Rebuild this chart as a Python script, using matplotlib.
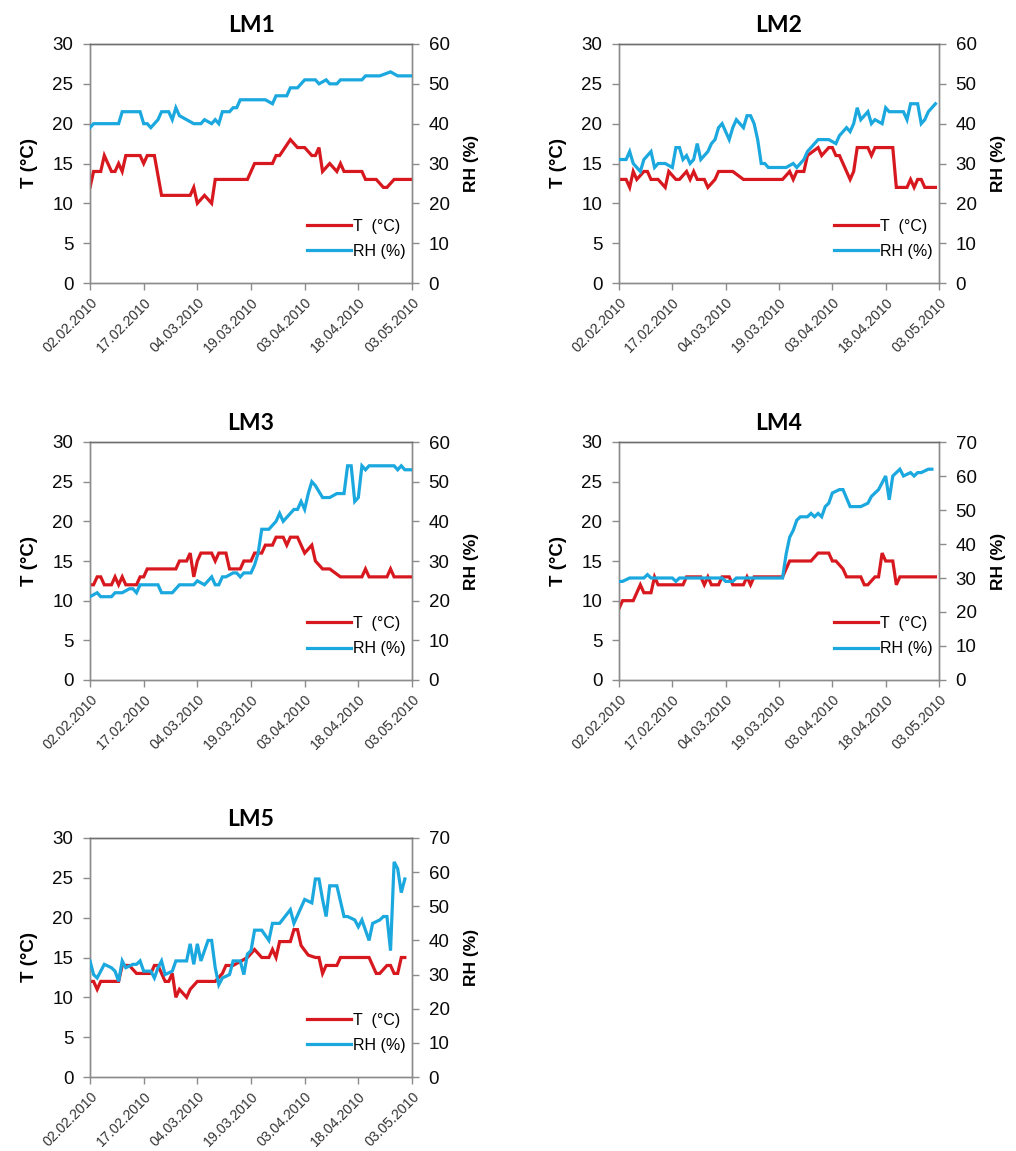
import matplotlib
matplotlib.use("Agg")
import matplotlib.pyplot as plt
import numpy as np

# ---------------------------------------------------------------------------
# Daily logger readings, day offsets counted from 02.02.2010
# ---------------------------------------------------------------------------
tick_days = [0, 15, 30, 45, 60, 75, 90]
tick_labels = ["02.02.2010", "17.02.2010", "04.03.2010", "19.03.2010",
               "03.04.2010", "18.04.2010", "03.05.2010"]

lm1_t_days = [0, 1, 3, 4, 6, 7, 8, 9, 10, 14, 15, 16, 18, 20, 28, 29, 30, 32, 34, 35,
              44, 46, 51, 52, 53, 56, 58, 60, 62, 63, 64, 65, 67, 69, 70, 71, 76, 77, 80, 82,
              83, 85, 90]
lm1_t = [12, 14, 14, 16, 14, 14, 15, 14, 16, 16, 15, 16, 16, 11, 11, 12, 10, 11, 10, 13,
         13, 15, 15, 16, 16, 18, 17, 17, 16, 16, 17, 14, 15, 14, 15, 14, 14, 13, 13, 12,
         12, 13, 13]
lm1_rh_days = [0, 1, 8, 9, 14, 15, 16, 17, 19, 20, 22, 23, 24, 25, 27, 29, 31, 32, 34, 35,
               36, 37, 39, 40, 41, 42, 49, 51, 52, 55, 56, 58, 60, 63, 64, 66, 67, 69, 70, 76,
               77, 81, 84, 86, 90]
lm1_rh = [39, 40, 40, 43, 43, 40, 40, 39, 41, 43, 43, 41, 44, 42, 41, 40, 40, 41, 40, 41,
          40, 43, 43, 44, 44, 46, 46, 45, 47, 47, 49, 49, 51, 51, 50, 51, 50, 50, 51, 51,
          52, 52, 53, 52, 52]

lm2_t_days = [0, 2, 3, 4, 5, 7, 8, 9, 11, 13, 14, 16, 17, 19, 20, 21, 22, 24, 25, 27,
              28, 32, 35, 46, 48, 49, 50, 52, 53, 56, 57, 59, 60, 61, 62, 63, 65, 66, 67, 70,
              71, 72, 77, 78, 81, 82, 83, 84, 85, 86, 89]
lm2_t = [13, 13, 12, 14, 13, 14, 14, 13, 13, 12, 14, 13, 13, 14, 13, 14, 13, 13, 12, 13,
         14, 14, 13, 13, 14, 13, 14, 14, 16, 17, 16, 17, 17, 16, 16, 15, 13, 14, 17, 17,
         16, 17, 17, 12, 12, 13, 12, 13, 13, 12, 12]
lm2_rh_days = [0, 2, 3, 4, 5, 6, 7, 9, 10, 11, 13, 15, 16, 17, 18, 19, 20, 21, 22, 23,
               25, 26, 27, 28, 29, 31, 32, 33, 34, 35, 36, 37, 38, 39, 40, 41, 42, 47, 49, 50,
               52, 53, 55, 56, 59, 61, 62, 63, 64, 65, 66, 67, 68, 70, 71, 72, 74, 75, 76, 80,
               81, 82, 84, 85, 86, 87, 89]
lm2_rh = [31, 31, 33, 30, 29, 28, 31, 33, 29, 30, 30, 29, 34, 34, 31, 32, 30, 31, 35, 31,
          33, 35, 36, 39, 40, 36, 39, 41, 40, 39, 42, 42, 40, 36, 30, 30, 29, 29, 30, 29,
          31, 33, 35, 36, 36, 35, 37, 38, 39, 38, 40, 44, 41, 43, 40, 41, 40, 44, 43, 43,
          41, 45, 45, 40, 41, 43, 45]

lm3_t_days = [0, 1, 2, 3, 4, 6, 7, 8, 9, 10, 13, 14, 15, 16, 24, 25, 27, 28, 29, 30,
              31, 32, 34, 35, 36, 38, 39, 42, 43, 45, 46, 48, 49, 51, 52, 54, 55, 56, 58, 60,
              62, 63, 65, 67, 70, 76, 77, 78, 83, 84, 85, 90]
lm3_t = [12, 12, 13, 13, 12, 12, 13, 12, 13, 12, 12, 13, 13, 14, 14, 15, 15, 16, 13, 15,
         16, 16, 16, 15, 16, 16, 14, 14, 15, 15, 16, 16, 17, 17, 18, 18, 17, 18, 18, 16,
         17, 15, 14, 14, 13, 13, 14, 13, 13, 14, 13, 13]
lm3_rh_days = [0, 2, 3, 6, 7, 9, 11, 12, 13, 14, 19, 20, 23, 25, 29, 30, 32, 34, 35, 36,
               37, 38, 40, 41, 42, 43, 45, 46, 47, 48, 50, 52, 53, 54, 56, 57, 58, 59, 60, 61,
               62, 63, 65, 67, 69, 71, 72, 73, 74, 75, 76, 77, 78, 85, 86, 87, 88, 90]
lm3_rh = [21, 22, 21, 21, 22, 22, 23, 23, 22, 24, 24, 22, 22, 24, 24, 25, 24, 26, 24, 24,
          26, 26, 27, 27, 26, 27, 27, 29, 32, 38, 38, 40, 42, 40, 42, 43, 43, 45, 43, 47,
          50, 49, 46, 46, 47, 47, 54, 54, 45, 46, 54, 53, 54, 54, 53, 54, 53, 53]

lm4_t_days = [0, 1, 4, 6, 7, 9, 10, 11, 18, 19, 23, 24, 25, 26, 28, 29, 31, 32, 35, 36,
              37, 38, 46, 48, 54, 56, 59, 60, 61, 63, 64, 68, 69, 70, 72, 73, 74, 75, 77, 78,
              79, 89]
lm4_t = [9, 10, 10, 12, 11, 11, 13, 12, 12, 13, 13, 12, 13, 12, 12, 13, 13, 12, 12, 13,
         12, 13, 13, 15, 15, 16, 16, 15, 15, 14, 13, 13, 12, 12, 13, 13, 16, 15, 15, 12,
         13, 13]
lm4_rh_days = [0, 1, 3, 7, 8, 9, 15, 16, 17, 29, 30, 32, 33, 34, 46, 47, 48, 49, 50, 51,
               53, 54, 55, 56, 57, 58, 59, 60, 62, 63, 65, 66, 68, 70, 71, 73, 74, 75, 76, 77,
               78, 79, 80, 82, 83, 84, 85, 87, 88]
lm4_rh = [29, 29, 30, 30, 31, 30, 30, 29, 30, 30, 29, 29, 30, 30, 30, 37, 42, 44, 47, 48,
          48, 49, 48, 49, 48, 51, 52, 55, 56, 56, 51, 51, 51, 52, 54, 56, 58, 60, 53, 60,
          61, 62, 60, 61, 60, 61, 61, 62, 62]

lm5_t_days = [0, 1, 2, 3, 8, 9, 11, 13, 17, 18, 19, 20, 21, 22, 23, 24, 25, 27, 28, 30,
              35, 37, 38, 40, 44, 46, 48, 50, 51, 52, 53, 56, 57, 58, 59, 61, 63, 64, 65, 66,
              69, 70, 78, 80, 81, 83, 84, 85, 86, 87, 88]
lm5_t = [12, 12, 11, 12, 12, 14, 14, 13, 13, 14, 14, 13, 12, 12, 13, 10, 11, 10, 11, 12,
         12, 13, 14, 14, 15, 16, 15, 15, 16, 15, 17, 17, 18.5, 18.5, 16.5, 15.3, 15, 15, 13, 14,
         14, 15, 15, 13, 13, 14, 14, 13, 13, 15, 15]
lm5_rh_days = [0, 1, 2, 3, 4, 6, 7, 8, 9, 10, 12, 13, 14, 15, 17, 18, 19, 20, 21, 23,
               24, 27, 28, 29, 30, 31, 33, 34, 35, 36, 37, 39, 40, 42, 43, 44, 45, 46, 48, 50,
               51, 53, 56, 57, 60, 62, 63, 64, 65, 66, 67, 69, 71, 72, 74, 75, 76, 77, 78, 79,
               81, 82, 83, 84, 85, 86, 87, 88]
lm5_rh = [34, 30, 29, 31, 33, 32, 31, 28, 34, 32, 33, 33, 34, 31, 31, 29, 32, 34, 30, 31,
          34, 34, 39, 33, 39, 34, 40, 40, 32, 27, 29, 30, 34, 34, 30, 36, 37, 43, 43, 40,
          45, 45, 49, 45, 52, 51, 58, 58, 52, 47, 56, 56, 47, 47, 46, 44, 46, 43, 40, 45,
          46, 47, 47, 37, 63, 61, 54, 58]

panels = [
    ("LM1", lm1_t_days, lm1_t, lm1_rh_days, lm1_rh, 60),
    ("LM2", lm2_t_days, lm2_t, lm2_rh_days, lm2_rh, 60),
    ("LM3", lm3_t_days, lm3_t, lm3_rh_days, lm3_rh, 60),
    ("LM4", lm4_t_days, lm4_t, lm4_rh_days, lm4_rh, 70),
    ("LM5", lm5_t_days, lm5_t, lm5_rh_days, lm5_rh, 70),
]

# ---------------------------------------------------------------------------
plt.rcParams["font.family"] = ["Liberation Sans", "DejaVu Sans"]

W, H = 1016, 1151
fig = plt.figure(figsize=(W / 100, H / 100), dpi=100)
fig.patch.set_facecolor("white")

RED = "#d7191f"
BLUE = "#1ba8df"
SPINE = "#8c8c8c"

# axes boxes in pixels: left, top, right, bottom
boxes = [
    (90, 44, 412, 283),
    (619, 44, 939, 283),
    (90, 442, 412, 680),
    (619, 442, 939, 680),
    (90, 838, 412, 1077),
]

for (name, td, tv, rd, rv, rh_max), (l, t, r, b) in zip(panels, boxes):
    ax = fig.add_axes([l / W, 1 - b / H, (r - l) / W, (b - t) / H])
    ax2 = ax.twinx()

    ax.plot(td, tv, color=RED, lw=2.3, solid_joinstyle="miter", zorder=3,
            label="T  (°C)")
    ax2.plot(rd, rv, color=BLUE, lw=2.3, solid_joinstyle="miter", zorder=3,
             label="RH (%)")

    ax.set_xlim(0, 90)
    ax.set_ylim(0, 30)
    ax.set_yticks(np.arange(0, 31, 5))
    ax2.set_ylim(0, rh_max)
    ax2.set_yticks(np.arange(0, rh_max + 1, 10))

    ax.set_xticks(tick_days)
    ax.set_xticklabels(tick_labels, rotation=45, ha="right",
                       rotation_mode="anchor", fontsize=10.2,
                       color="#333333")

    for a in (ax, ax2):
        for s in a.spines.values():
            s.set_color(SPINE)
            s.set_linewidth(1.0)
        a.spines["top"].set_color("#6e6e6e")
        a.tick_params(axis="both", direction="out", length=5, width=1,
                      color=SPINE)
        a.tick_params(axis="y", labelsize=13.5, labelcolor="#0a0a0a", pad=7)
    ax.tick_params(axis="x", pad=4)

    ax.set_ylabel("T (°C)", fontweight="bold", fontsize=13.5)
    ax.yaxis.set_label_coords(-52 / (r - l), 0.5)
    ax2.set_ylabel("RH (%)", fontweight="bold", fontsize=12.5)
    ax2.yaxis.set_label_coords(1 + 52 / (r - l), 0.5)

    ax.set_title(name, fontfamily="Lato", fontweight="bold", fontsize=16.5,
                 pad=9)

    handles = ax.get_lines() + ax2.get_lines()
    ax2.legend(handles, [h.get_label() for h in handles],
               loc="lower right", bbox_to_anchor=(1.01, 0.06),
               frameon=False, handlelength=2.7, handletextpad=0.15,
               labelspacing=0.65, borderaxespad=0.2,
               prop={"size": 11.5})

fig.savefig("out.png", dpi=100, facecolor="white")
